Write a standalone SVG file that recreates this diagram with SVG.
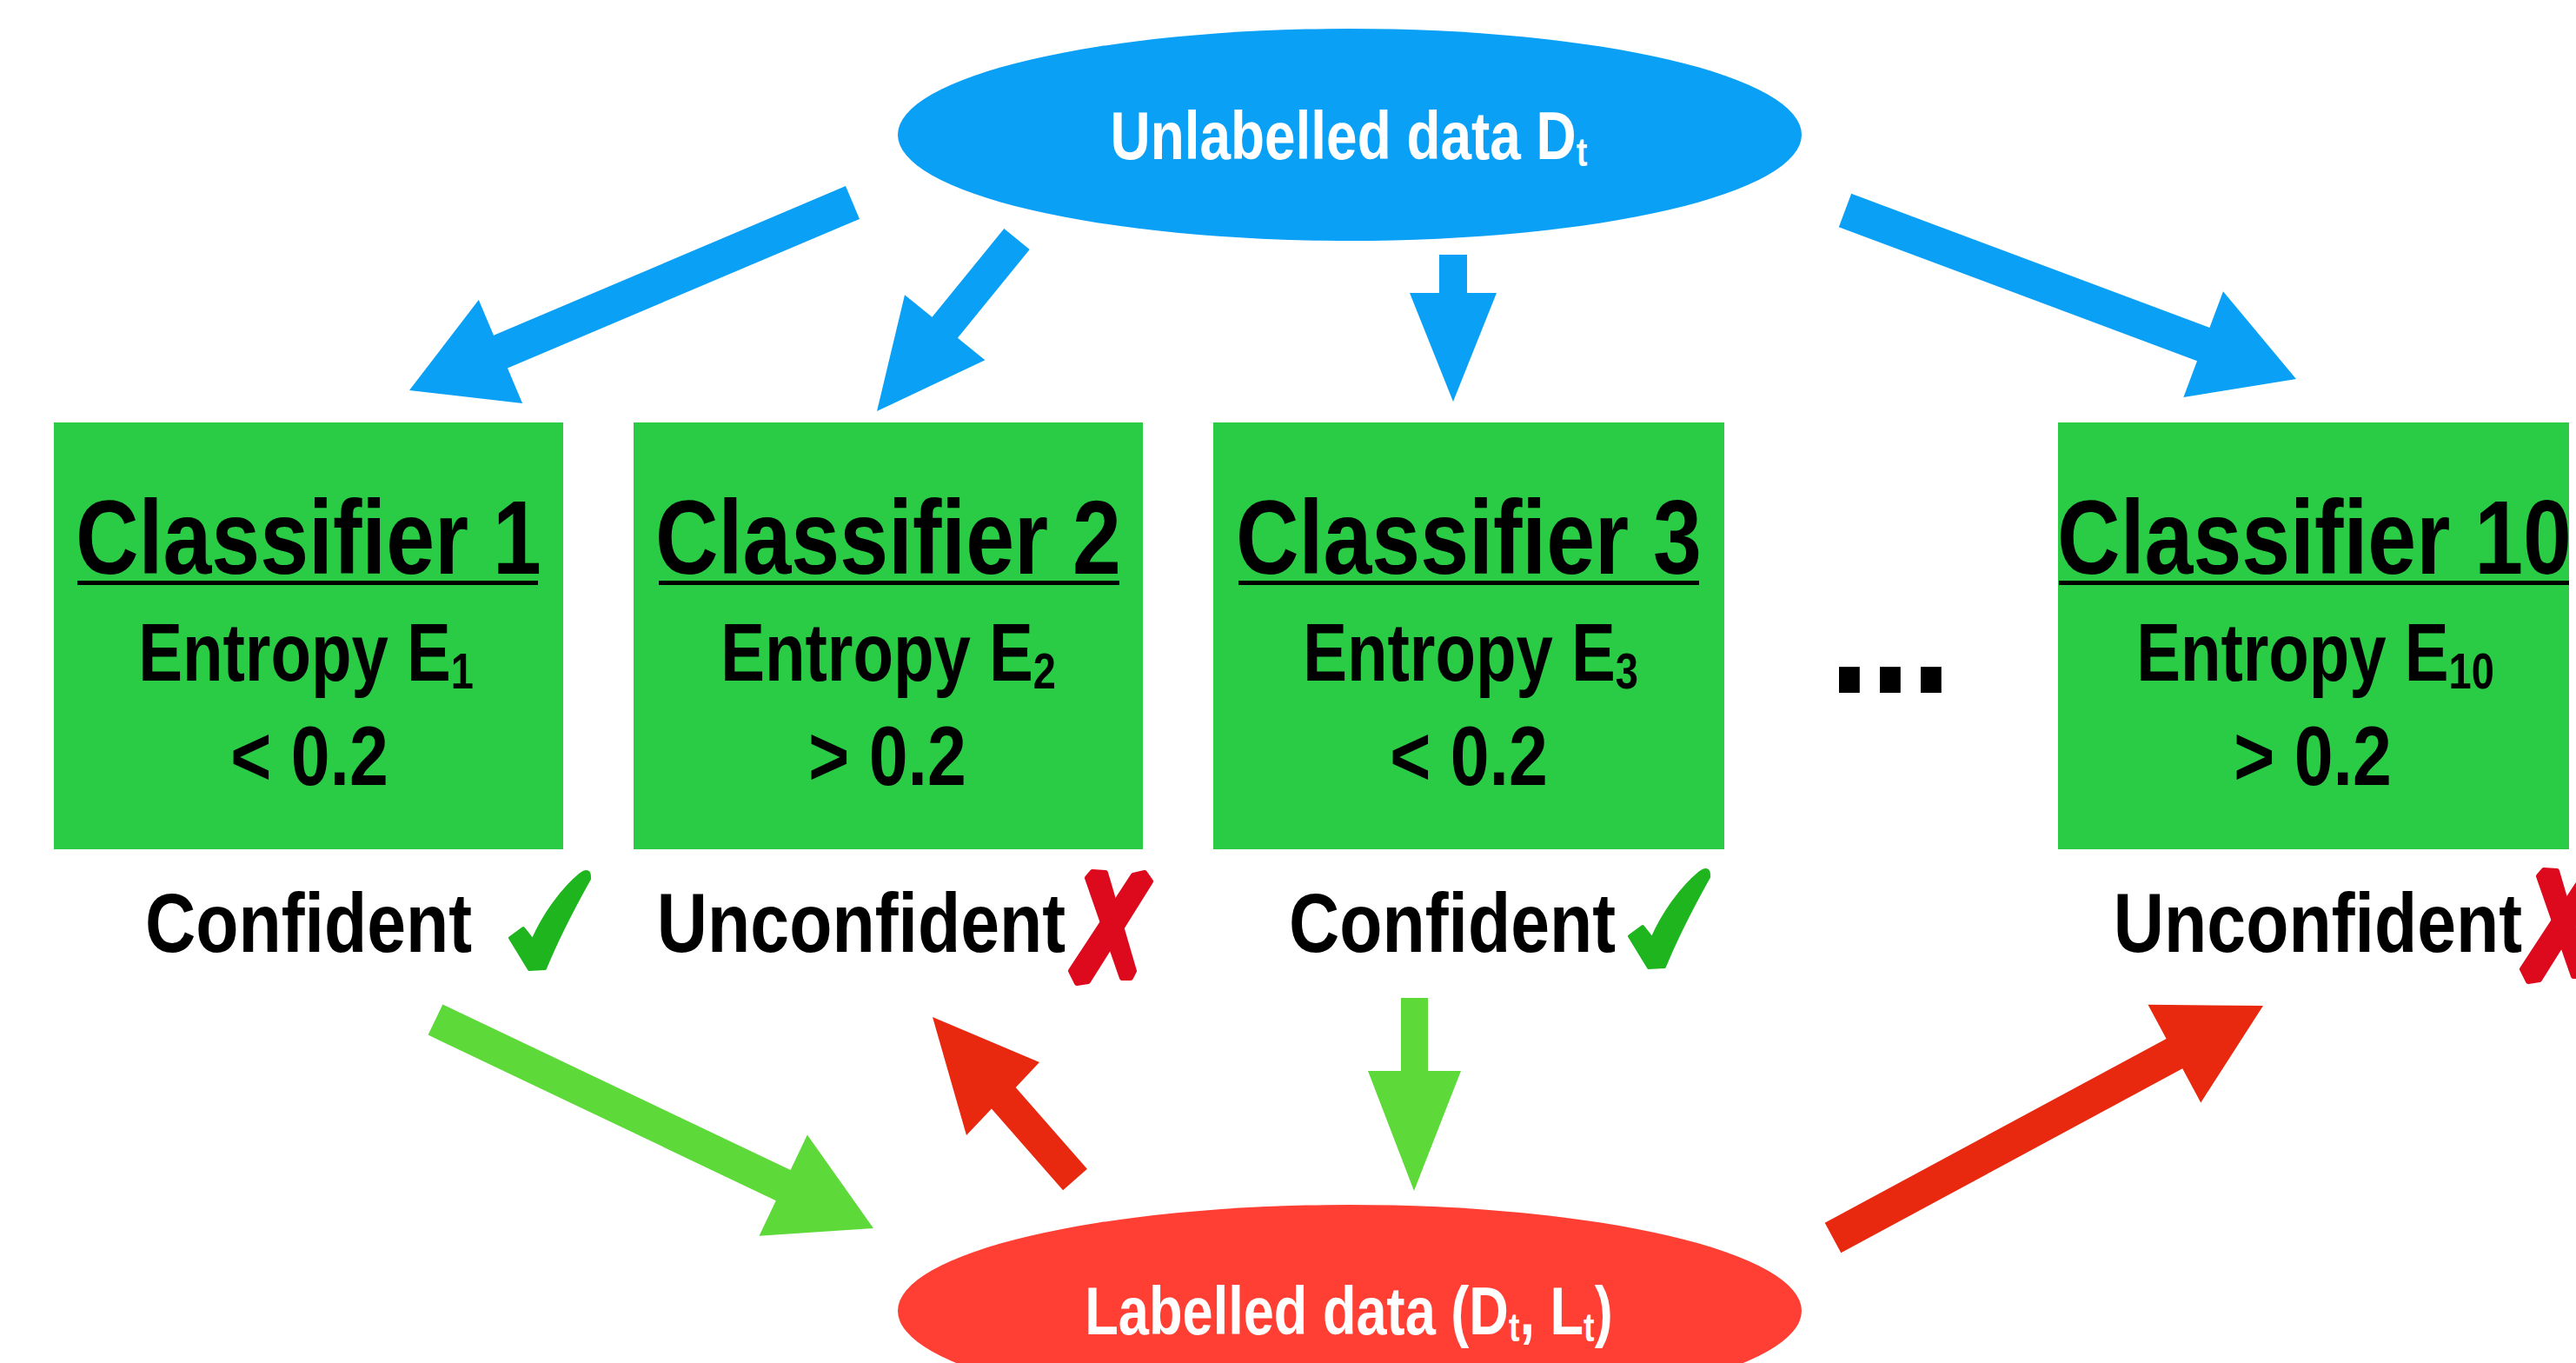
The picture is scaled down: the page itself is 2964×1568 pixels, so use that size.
<svg xmlns="http://www.w3.org/2000/svg" width="2964" height="1568" viewBox="0 0 2964 1568">
<style>
.t{font-family:"Liberation Sans",Arial,Helvetica,sans-serif;font-weight:bold;text-anchor:middle;fill:#000}
.w{fill:#fff}
.box{fill:#2acb45}
.title{font-size:121px}
.ent{font-size:94px}
.thr{font-size:96px}
.lab{font-size:96px}
.ell{font-size:77px}
.blue{fill:#0aa0f6}
.green{fill:#5ed93a}
.red{fill:#e8290f}
.ul{fill:#000}
.chk{fill:#1fb51f;stroke:#1fb51f;stroke-width:4;stroke-linejoin:round}
.xm{fill:#dd0a1e;stroke:#dd0a1e;stroke-width:6;stroke-linejoin:round}
</style>
<defs>
<path id="check" d="M2,76 L17,65 L28,79 C40,52 60,22 83,3 Q94,-5 93,8 C79,33 58,72 42,111 L24,112 Z"/>
<g id="xmark">
<polygon points="19,9 25,2 40,3 73,116 69,124 59,124"/>
<polygon points="72,6 85,3 92,13 20,128 7,130 0,116"/>
</g>
</defs>
<rect width="2964" height="1568" fill="#fff"/>

<g id="connectors">
<polygon class="blue" points="973,214.1 568,385.7 550.8,345.1 471,449 601.1,463.9 584,423.4 989,251.9"/>
<polygon class="blue" points="1155.3,263 1072.5,364.8 1041,339.3 1009,473 1133.4,414.3 1101.9,388.8 1184.7,287"/>
<polygon class="blue" points="1656,293 1688,293 1688,337 1722,337 1672,462 1622,337 1656,337"/>
<polygon class="blue" points="2115.8,261.2 2528,415.3 2512.4,457 2642,436 2558,335.2 2542.4,376.9 2130.2,222.8"/>
<polygon class="green" points="492.6,1190.6 892.8,1381.2 873.5,1421.8 1005,1413 928.9,1305.4 909.6,1346 509.4,1155.4"/>
<polygon class="red" points="1250.9,1344.8 1168.7,1251 1196,1222 1073,1170 1112,1306 1140.9,1275.4 1223.1,1369.2"/>
<polygon class="green" points="1612,1148 1643,1148 1643,1232 1681,1232 1627,1370 1574,1232 1612,1232"/>
<polygon class="red" points="2118.3,1441.2 2511.2,1229.3 2532.3,1268.4 2604,1157 2471.5,1155.8 2492.6,1194.9 2099.7,1406.8"/>
</g>

<g id="unlabelled">
<ellipse class="blue" cx="1553" cy="155" rx="520" ry="122"/>
<text class="t w ell" transform="translate(1552,183) scale(0.83,1)">Unlabelled data D<tspan font-size="46" dy="8">t</tspan></text>
</g>

<g id="labelled">
<ellipse cx="1553" cy="1508" rx="520" ry="122" fill="#ff3f33"/>
<text class="t w ell" transform="translate(1552,1535) scale(0.82,1)">Labelled data (D<tspan font-size="46" dy="8">t</tspan><tspan dy="-8">, L</tspan><tspan font-size="46" dy="8">t</tspan><tspan dy="-8">)</tspan></text>
</g>

<g id="classifier1">
<rect class="box" x="62" y="486" width="586" height="491"/>
<text class="t title" transform="translate(355,660) scale(0.83,1)">Classifier 1</text>
<rect class="ul" x="89" y="668" width="530" height="5"/>
<text class="t ent" transform="translate(352,783) scale(0.81,1)">Entropy E<tspan font-size="58" dy="9">1</tspan></text>
<text class="t thr" transform="translate(356,903) scale(0.84,1)">&lt; 0.2</text>
<text class="t lab" transform="translate(355,1095) scale(0.84,1)">Confident</text>
<use href="#check" class="chk" x="585" y="1003"/>
</g>

<g id="classifier2">
<rect class="box" x="729" y="486" width="586" height="491"/>
<text class="t title" transform="translate(1022,660) scale(0.83,1)">Classifier 2</text>
<rect class="ul" x="758" y="668" width="530" height="5"/>
<text class="t ent" transform="translate(1022,783) scale(0.81,1)">Entropy E<tspan font-size="58" dy="9">2</tspan></text>
<text class="t thr" transform="translate(1021,903) scale(0.84,1)">&gt; 0.2</text>
<text class="t lab" transform="translate(991,1095) scale(0.84,1)">Unconfident</text>
<use href="#xmark" class="xm" x="1232" y="1001"/>
</g>

<g id="classifier3">
<rect class="box" x="1396" y="486" width="588" height="491"/>
<text class="t title" transform="translate(1690,660) scale(0.83,1)">Classifier 3</text>
<rect class="ul" x="1425" y="668" width="530" height="5"/>
<text class="t ent" transform="translate(1692,783) scale(0.81,1)">Entropy E<tspan font-size="58" dy="9">3</tspan></text>
<text class="t thr" transform="translate(1690,903) scale(0.84,1)">&lt; 0.2</text>
<text class="t lab" transform="translate(1671,1095) scale(0.84,1)">Confident</text>
<use href="#check" class="chk" x="1873" y="1001"/>
</g>

<g id="ellipsis">
<text class="t" font-size="200" transform="translate(2175,797) scale(0.845,1)">...</text>
</g>

<g id="classifier10">
<rect class="box" x="2368" y="486" width="588" height="491"/>
<text class="t title" transform="translate(2663,660) scale(0.83,1)">Classifier 10</text>
<rect class="ul" x="2369" y="668" width="587" height="5"/>
<text class="t ent" transform="translate(2664,783) scale(0.81,1)">Entropy E<tspan font-size="58" dy="9">10</tspan></text>
<text class="t thr" transform="translate(2661,903) scale(0.84,1)">&gt; 0.2</text>
<text class="t lab" transform="translate(2667,1095) scale(0.84,1)">Unconfident</text>
<use href="#xmark" class="xm" x="2902" y="999"/>
</g>
</svg>
